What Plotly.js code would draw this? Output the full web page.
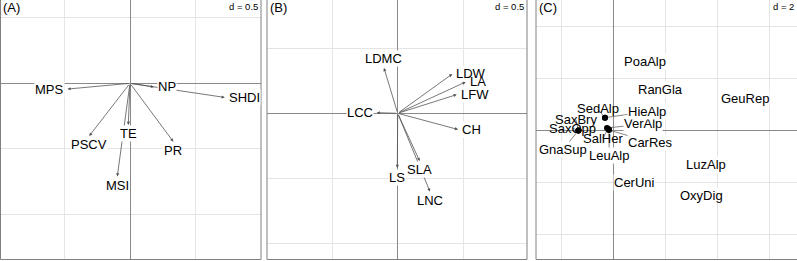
<!DOCTYPE html>
<html><head><meta charset="utf-8">
<script src="https://cdn.plot.ly/plotly-3.0.1.min.js"></script>
<style>body{margin:0;padding:0;background:#fff}#chart{width:797px;height:261px}</style>
</head><body><div id="chart"></div>
<script>
// ---- Panel A : landscape metrics (arrows) ----
const aLabels = ['MPS','NP','SHDI','PSCV','TE','MSI','PR'];
const aX = [-0.477, 0.183, 0.724, -0.311, -0.013, -0.097, 0.331];
const aY = [-0.044, -0.028, -0.108, -0.402, -0.318, -0.711, -0.446];
// ---- Panel B : leaf traits (arrows) ----
const bLabels = ['LDMC','LDW','LA','LFW','LCC','CH','SLA','LS','LNC'];
const bX = [-0.105, 0.418, 0.521, 0.452, -0.161, 0.462, 0.168, -0.003, 0.247];
const bY = [0.347, 0.301, 0.240, 0.143, 0.005, -0.124, -0.365, -0.419, -0.599];
// ---- Panel C : species (labels, some displaced from their points) ----
const cLabels = ['PoaAlp','RanGla','GeuRep','VerAlp','HieAlp','CarRes','GnaSup','LeuAlp','LuzAlp','CerUni','OxyDig','SedAlp','SaxBry','SaxOpp','SalHer'];
const cLabelX = [1.22, 1.83, 5.07, 1.15, 1.285, 1.435, -1.95, -0.154, 3.565, 0.796, 3.4, -0.604, -1.435, -1.56, -0.408];
const cLabelY = [2.627, 1.565, 1.219, 0.231, 0.704, -0.473, -0.769, -0.988, -1.308, -2.026, -2.5, 0.808, 0.385, 0.065, -0.319];
const cPointX = [null, null, null, -0.242, -0.319, -0.165, -1.34, -0.17, null, null, null, -0.319, -1.34, -1.34, -0.20];
const cPointY = [null, null, null, 0.077, 0.473, 0.0, -0.02, 0.02, null, null, null, 0.473, -0.02, -0.02, 0.04];
const scaleLabels = ['d = 0.5', 'd = 0.5', 'd = 2'];
const panelTitles = ['(A)', '(B)', '(C)'];
// labels drawn without a white box because they sit in crowded spots
const unboxed = new Set(['LA', 'SedAlp', 'SaxBry', 'SaxOpp', 'SalHer']);

const W = 797, H = 261;
const FONT = '"Liberation Sans", Arial, Helvetica, sans-serif';
const px = v => v / W, py = v => 1 - v / H;
const bg = name => unboxed.has(name) ? 'rgba(0,0,0,0)' : '#fff';

function axis(domain, range, dtick, anchor) {
  return {domain, range, dtick, tick0: 0, showgrid: true, gridcolor: '#e4e4e4', gridwidth: 1,
    zeroline: true, zerolinecolor: '#8a8a8a', zerolinewidth: 1, showticklabels: false,
    ticks: '', showline: false, fixedrange: true, anchor};
}

const annotations = [];
function arrowPanel(xs, ys, labels, xr, yr) {
  const txt = [];
  for (let i = 0; i < xs.length; i++) {
    const x = xs[i], y = ys[i];
    annotations.push({xref: xr, yref: yr, axref: xr, ayref: yr, x, y, ax: 0, ay: 0, text: '',
      showarrow: true, arrowhead: 2, arrowsize: 0.8, arrowwidth: 0.8, arrowcolor: '#555',
      standoff: 0, startstandoff: 0});
    let xa = 'center', xs_ = 0, ys_ = 0;
    if (x > y && x > -y) { xa = 'left'; xs_ = 3; }
    else if (x > y && x <= -y) { ys_ = -9; }
    else if (x <= y && x <= -y) { xa = 'right'; xs_ = -3; }
    else { ys_ = 9; }
    txt.push({xref: xr, yref: yr, x, y, text: labels[i], showarrow: false, xanchor: xa,
      yanchor: 'middle', xshift: xs_, yshift: ys_, bgcolor: bg(labels[i]), borderpad: 0,
      font: {size: 13, color: '#000', family: FONT}});
  }
  annotations.push(...txt);
}
arrowPanel(aX, aY, aLabels, 'x', 'y');
arrowPanel(bX, bY, bLabels, 'x2', 'y2');

// panel C lines + points
const lineX = [], lineY = [], ptX = [], ptY = [];
for (let i = 0; i < cLabels.length; i++) {
  if (cPointX[i] === null) continue;
  lineX.push(cPointX[i], cLabelX[i], null);
  lineY.push(cPointY[i], cLabelY[i], null);
  ptX.push(cPointX[i]); ptY.push(cPointY[i]);
}
for (let i = 0; i < cLabels.length; i++) {
  annotations.push({xref: 'x3', yref: 'y3', x: cLabelX[i], y: cLabelY[i], text: cLabels[i],
    showarrow: false, xanchor: 'center', yanchor: 'middle',
    bgcolor: bg(cLabels[i]), borderpad: 0,
    font: {size: 13, color: '#000', family: FONT}});
}

const axes = ['', '2', '3'];
for (let k = 0; k < 3; k++) {
  annotations.push({xref: 'x' + axes[k] + ' domain', yref: 'y' + axes[k] + ' domain', x: 0, y: 1,
    xanchor: 'left', yanchor: 'top', xshift: 1, yshift: 2, text: panelTitles[k], showarrow: false,
    font: {size: 13, color: '#000', family: FONT}});
  annotations.push({xref: 'x' + axes[k] + ' domain', yref: 'y' + axes[k] + ' domain', x: 1, y: 1,
    xanchor: 'right', yanchor: 'top', xshift: -1, yshift: 1, text: scaleLabels[k], showarrow: false,
    bgcolor: '#fff', borderpad: 1, font: {size: 9.5, color: '#000', family: FONT}});
}

const borders = [];
function border(x0, x1, yb, right) {
  const s = {type: 'line', xref: 'paper', yref: 'paper', line: {color: '#808080', width: 1}};
  borders.push(Object.assign({}, s, {x0: px(x0), x1: px(x0), y0: py(0), y1: py(yb)}));
  if (right) borders.push(Object.assign({}, s, {x0: px(x1), x1: px(x1), y0: py(0), y1: py(yb)}));
  borders.push(Object.assign({}, s, {x0: px(x0), x1: px(x1), y0: py(yb), y1: py(yb)}));
}
border(0.5, 261, 259.5, true);
border(267, 527, 259.5, true);
border(536, 797, 259.5, false);

const traces = [
  {type: 'scatter', mode: 'lines', x: lineX, y: lineY, xaxis: 'x3', yaxis: 'y3',
   line: {color: '#666', width: 0.8}, hoverinfo: 'skip', showlegend: false},
  {type: 'scatter', mode: 'markers', x: ptX, y: ptY, xaxis: 'x3', yaxis: 'y3',
   marker: {color: '#000', size: 6}, hoverinfo: 'skip', showlegend: false},
  {type: 'scatter', mode: 'markers', x: [0], y: [0], xaxis: 'x', yaxis: 'y',
   marker: {opacity: 0}, hoverinfo: 'skip', showlegend: false},
  {type: 'scatter', mode: 'markers', x: [0], y: [0], xaxis: 'x2', yaxis: 'y2',
   marker: {opacity: 0}, hoverinfo: 'skip', showlegend: false}
];

const yb = 1.5 / H;
const layout = {
  width: W, height: H, margin: {l: 0, r: 0, t: 0, b: 0}, paper_bgcolor: '#fff', plot_bgcolor: '#fff',
  showlegend: false, font: {family: FONT},
  xaxis: axis([0, 261 / W], [-130 / 131, 131 / 131], 0.5, 'y'),
  yaxis: axis([yb, 1], [-(259.5 - 83.3) / 131, 83.3 / 131], 0.5, 'x'),
  xaxis2: axis([267 / W, 527 / W], [(267 - 397.7) / 130.6, (527 - 397.7) / 130.6], 0.5, 'y2'),
  yaxis2: axis([yb, 1], [-(259.5 - 113.3) / 130.6, 113.3 / 130.6], 0.5, 'x2'),
  xaxis3: axis([536 / W, 1], [(536 - 613.3) / 26, (797 - 613.3) / 26], 2, 'y3'),
  yaxis3: axis([yb, 1], [-(259.5 - 130) / 26, 130 / 26], 2, 'x3'),
  annotations, shapes: borders
};
Plotly.newPlot('chart', traces, layout, {staticPlot: true, displayModeBar: false});
</script></body></html>
